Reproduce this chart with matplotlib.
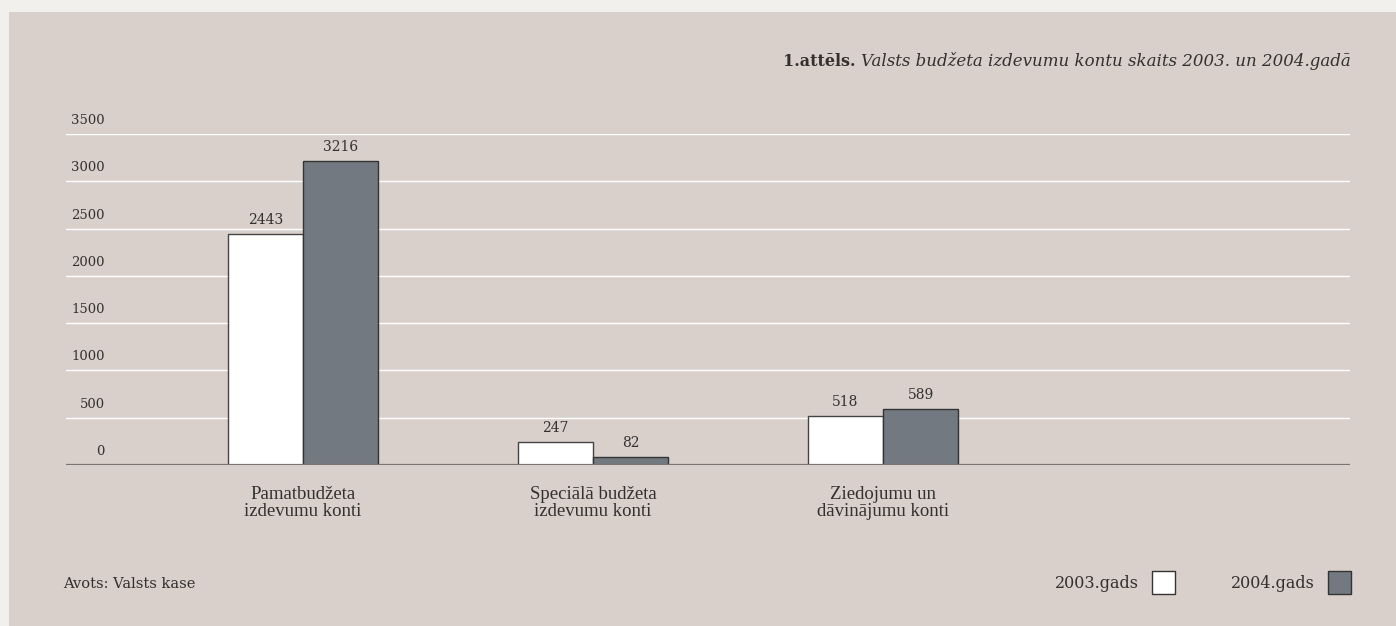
import matplotlib.pyplot as plt
import numpy as np

# data
categories = ['Pamatbudžeta\nizdevumu konti',
              'Speciālā budžeta\nizdevumu konti',
              'Ziedojumu un\ndāvinājumu konti']
years = ['2003.gads', '2004.gads']
vals_2003 = [2443, 247, 518]
vals_2004 = [3216, 82, 589]
yticks = [0, 500, 1000, 1500, 2000, 2500, 3000, 3500]

W, H = 1396, 626
panel_bg = '#d9d0cb'
outer_bg = '#f2f0ec'
txt = '#333030'
col_2003 = '#ffffff'
col_2004 = '#737980'
serif = ['DejaVu Serif']
narrow = ['Liberation Serif', 'DejaVu Serif']

plt.rcParams['font.family'] = serif

fig = plt.figure(figsize=(W / 100, H / 100), dpi=100)
fig.patch.set_facecolor(outer_bg)

# inner panel
fig.patches.append(plt.Rectangle((9 / W, 0), 1, 1 - 12 / H, transform=fig.transFigure,
                                 facecolor=panel_bg, edgecolor='none', zorder=-10))

ax = fig.add_axes([66 / W, (H - 465) / H, (1350 - 66) / W, (465 - 134) / H])
ax.set_facecolor('none')
ax.set_ylim(0, 3500)
ax.set_xlim(-0.817, 3.61)

x = np.arange(len(categories))
bw = 0.26
b1 = ax.bar(x - bw / 2, vals_2003, bw, color=col_2003, edgecolor='#444444', linewidth=1, zorder=3)
b2 = ax.bar(x + bw / 2, vals_2004, bw, color=col_2004, edgecolor='#333333', linewidth=1, zorder=3)

for bars, vals in [(b1, vals_2003), (b2, vals_2004)]:
    for b, v in zip(bars, vals):
        ax.annotate(str(v), (b.get_x() + b.get_width() / 2, v), xytext=(0, 5),
                    textcoords='offset points', ha='center', va='bottom',
                    fontsize=10, color=txt)

# gridlines
for t in yticks[1:]:
    ax.axhline(t, color='white', lw=1, zorder=1)
ax.axhline(0, color='#7a7470', lw=1.6, zorder=4)

# y labels sit above the gridlines
ytr = ax.get_yaxis_transform()
for t in yticks:
    ax.annotate(str(t), (0, t), xycoords=ytr, xytext=(28, 5), textcoords='offset points',
                ha='right', va='bottom', fontsize=9.5, color=txt)

for xi, c in zip(x, categories):
    ax.annotate(c, (xi, 0), xycoords=('data', 'axes fraction'), xytext=(0, -15),
                textcoords='offset points', ha='center', va='top', fontsize=13.5,
                family=narrow, color=txt, linespacing=1.0)

ax.set_xticks([])
ax.set_yticks([])
for s in ax.spines.values():
    s.set_visible(False)

# title
fig.text(1351 / W, 1 - 61 / H, 'Valsts budžeta izdevumu kontu skaits 2003. un 2004.gadā',
         ha='right', va='center', fontsize=12, style='italic', color=txt)
t = fig.text(0, 0, '1.attēls. ', fontsize=11.5, weight='bold', color=txt)
fig.canvas.draw()
r = fig.canvas.get_renderer()
tb = fig.texts[0].get_window_extent(r)
t.set_position((tb.x0 / W, 1 - 61 / H))
t.set_ha('right')
t.set_va('center')

fig.text(63 / W, 1 - 584 / H, 'Avots: Valsts kase', ha='left', va='center', fontsize=10.5, color=txt)

# legend
for label, col, xr in [(years[0], col_2003, 1152), (years[1], col_2004, 1328)]:
    fig.patches.append(plt.Rectangle((xr / W, 1 - 594 / H), 23 / W, 23 / H,
                                     transform=fig.transFigure, facecolor=col,
                                     edgecolor='#333333', lw=1, zorder=3))
    fig.text((xr - 13) / W, 1 - 583 / H, label, ha='right', va='center', fontsize=11.5, color=txt)

fig.savefig('out.png', dpi=100, facecolor=fig.get_facecolor())
